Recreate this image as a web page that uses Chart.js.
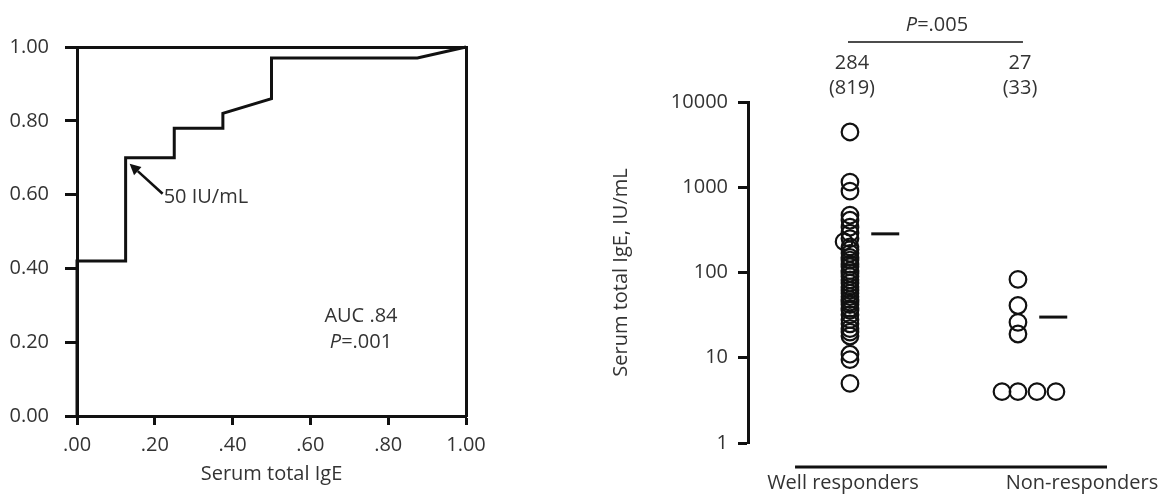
<!DOCTYPE html>
<html>
<head>
<meta charset="utf-8">
<script src="https://cdn.jsdelivr.net/npm/chart.js@4.4.1/dist/chart.umd.min.js"></script>
<style>
  html, body { margin: 0; padding: 0; background: #fff; }
  body { width: 1161px; height: 503px; position: relative; overflow: hidden; }
  .panel { position: absolute; top: 0; }
  #leftWrap { left: 0; width: 580px; height: 503px; }
  #rightWrap { left: 580px; width: 581px; height: 503px; }
</style>
</head>
<body>
<div class="panel" id="leftWrap"><canvas id="roc" width="580" height="503"></canvas></div>
<div class="panel" id="rightWrap"><canvas id="dots" width="581" height="503"></canvas></div>
<script>
// ---------- Left panel: ROC curve ----------
const rocFPR = [0, 0, 0.125, 0.125, 0.25, 0.25, 0.375, 0.375, 0.5, 0.5, 0.875, 1];
const rocTPR = [0, 0.42, 0.42, 0.70, 0.70, 0.78, 0.78, 0.82, 0.86, 0.97, 0.97, 1];
const rocTickValues = [0, 0.2, 0.4, 0.6, 0.8, 1];
const rocXTickLabels = ['.00', '.20', '.40', '.60', '.80', '1.00'];
const rocYTickLabels = ['0.00', '0.20', '0.40', '0.60', '0.80', '1.00'];
const rocXTitle = 'Serum total IgE';
const cutoffFPR = 0.125;
const cutoffTPR = 0.70;
const cutoffLabel = '50 IU/mL';
const aucLabel = 'AUC .84';
const aucPLabel = '=.001';

// ---------- Right panel: dot plot ----------
const groups = ['Well responders', 'Non-responders'];
const wellValues = [4450, 1150, 900, 470, 410, 340, 290, 250, 230, 200, 185, 168, 150, 140, 125, 117, 105, 98, 90, 82, 75, 68, 62, 57, 52, 48, 45, 42, 38, 36, 32, 28, 25, 22, 20, 18, 11, 9.5, 5];
const wellJitter = [0, 0, 0, 0, 0, 0, 0, 0, -0.035, 0, 0, 0, 0, 0, 0, 0, 0, 0, 0, 0, 0, 0, 0, 0, 0, 0, 0, 0, 0, 0, 0, 0, 0, 0, 0, 0, 0, 0, 0];
const nonValues = [83, 41, 26, 19, 4, 4, 4, 4];
const nonJitter = [0, 0, 0, 0, -0.095, 0, 0.113, 0.226];
const groupMedians = [284, 30];
const medianLabels = ['284', '27'];
const meanLabels = ['(819)', '(33)'];
const dotYTicks = [1, 10, 100, 1000, 10000];
const dotYTitle = 'Serum total IgE, IU/mL';
const compareLabel = '=.005';

const FONT = 'Open Sans';
const FS = 20;
const TXT = '#333';
const INK = '#111';

Chart.defaults.font.family = FONT;
Chart.defaults.font.size = FS;
Chart.defaults.color = TXT;

function drawPText(ctx, rest, cx, cy) {
  ctx.font = 'italic ' + FS + 'px "' + FONT + '"';
  const w1 = ctx.measureText('P').width;
  ctx.font = FS + 'px "' + FONT + '"';
  const w2 = ctx.measureText(rest).width;
  const x0 = cx - (w1 + w2) / 2;
  ctx.textAlign = 'left';
  ctx.textBaseline = 'middle';
  ctx.fillStyle = TXT;
  ctx.font = 'italic ' + FS + 'px "' + FONT + '"';
  ctx.fillText('P', x0, cy);
  ctx.font = FS + 'px "' + FONT + '"';
  ctx.fillText(rest, x0 + w1, cy);
}

const rocAnnot = {
  id: 'rocAnnot',
  afterDatasetsDraw(chart) {
    const { ctx, scales: { x, y } } = chart;
    const px = x.getPixelForValue(cutoffFPR);
    const py = y.getPixelForValue(cutoffTPR);
    const tipX = px + 4, tipY = py + 6;
    const tailX = px + 37, tailY = py + 36;
    const ang = Math.atan2(tipY - tailY, tipX - tailX);
    const hl = 11, hw = 5.5;
    const bx = tipX - hl * Math.cos(ang), by = tipY - hl * Math.sin(ang);
    ctx.save();
    ctx.strokeStyle = INK;
    ctx.fillStyle = INK;
    ctx.lineWidth = 2.6;
    ctx.beginPath();
    ctx.moveTo(tailX, tailY);
    ctx.lineTo(bx, by);
    ctx.stroke();
    ctx.beginPath();
    ctx.moveTo(tipX, tipY);
    ctx.lineTo(bx + hw * Math.sin(ang), by - hw * Math.cos(ang));
    ctx.lineTo(bx - hw * Math.sin(ang), by + hw * Math.cos(ang));
    ctx.closePath();
    ctx.fill();
    ctx.fillStyle = TXT;
    ctx.font = FS + 'px "' + FONT + '"';
    ctx.textAlign = 'left';
    ctx.textBaseline = 'middle';
    ctx.fillText(cutoffLabel, tailX + 1, tailY + 4);
    // AUC text
    const ax = x.getPixelForValue(0.73);
    const ay = y.getPixelForValue(0.27);
    ctx.textAlign = 'center';
    ctx.fillText(aucLabel, ax, ay);
    drawPText(ctx, aucPLabel, ax, ay + 26);
    ctx.restore();
  }
};

new Chart(document.getElementById('roc'), {
  type: 'scatter',
  data: {
    datasets: [{
      data: rocFPR.map((v, i) => ({ x: v, y: rocTPR[i] })),
      showLine: true,
      borderColor: INK,
      borderWidth: 3,
      pointRadius: 0,
      tension: 0,
      clip: false
    }]
  },
  options: {
    responsive: false,
    animation: false,
    layout: { padding: { left: 0, top: 47, right: 114, bottom: 0 } },
    plugins: { legend: { display: false }, tooltip: { enabled: false } },
    scales: {
      x: {
        type: 'linear', position: 'bottom', min: 0, max: 1,
        afterBuildTicks: s => { s.ticks = rocTickValues.map(v => ({ value: v })); },
        afterFit: s => { s.height = 87; },
        ticks: { callback: (v, i) => rocXTickLabels[i], padding: 8, color: TXT, maxRotation: 0, autoSkip: false },
        grid: { drawOnChartArea: false, drawTicks: true, tickLength: 9, tickWidth: 3, tickColor: INK },
        border: { display: true, width: 3, color: INK },
        title: { display: true, text: rocXTitle, color: TXT, padding: { top: 0, bottom: 17 } }
      },
      y: {
        type: 'linear', position: 'left', min: 0, max: 1,
        afterBuildTicks: s => { s.ticks = rocTickValues.map(v => ({ value: v })); },
        afterFit: s => { s.width = 77; },
        ticks: { callback: (v, i) => rocYTickLabels[i], padding: 16, color: TXT, autoSkip: false },
        grid: { drawOnChartArea: false, drawTicks: true, tickLength: 12, tickWidth: 3, tickColor: INK },
        border: { display: true, width: 3, color: INK }
      },
      xTop: {
        type: 'linear', position: 'top', min: 0, max: 1, display: true,
        afterFit: s => { s.height = 0; },
        ticks: { display: false },
        grid: { display: false, drawTicks: false },
        border: { display: true, width: 3, color: INK }
      },
      yRight: {
        type: 'linear', position: 'right', min: 0, max: 1, display: true,
        afterFit: s => { s.width = 0; },
        ticks: { display: false },
        grid: { display: false, drawTicks: false },
        border: { display: true, width: 3, color: INK }
      }
    }
  },
  plugins: [rocAnnot]
});

// ---------- Right chart ----------
const dotAnnot = {
  id: 'dotAnnot',
  afterDraw(chart) {
    const { ctx, chartArea: ca, scales: { x } } = chart;
    const x1 = x.getPixelForValue(1), x2 = x.getPixelForValue(2);
    ctx.save();
    drawPText(ctx, compareLabel, (x1 + x2) / 2 + 3, ca.top - 77);
    ctx.strokeStyle = INK;
    ctx.lineWidth = 1.5;
    ctx.beginPath();
    ctx.moveTo(x1 - 2, ca.top - 60);
    ctx.lineTo(x2 + 5, ca.top - 60);
    ctx.stroke();
    ctx.fillStyle = TXT;
    ctx.font = FS + 'px "' + FONT + '"';
    ctx.textAlign = 'center';
    ctx.textBaseline = 'middle';
    const labelShift = [-7, 64];
    groups.forEach((g, i) => {
      const cx = x.getPixelForValue(i + 1);
      ctx.fillText(medianLabels[i], cx + 2, ca.top - 39);
      ctx.fillText(meanLabels[i], cx + 2, ca.top - 14);
      ctx.fillText(g, cx + labelShift[i], ca.bottom + 40);
    });
    ctx.lineWidth = 3;
    ctx.beginPath();
    ctx.moveTo(x.getPixelForValue(0.673), ca.bottom + 24);
    ctx.lineTo(x.getPixelForValue(2.53), ca.bottom + 24);
    ctx.stroke();
    ctx.restore();
  }
};

const circleStyle = {
  pointStyle: 'circle',
  pointRadius: 8.3,
  pointBorderWidth: 2.2,
  pointBorderColor: INK,
  pointBackgroundColor: 'rgba(255,255,255,0)',
  showLine: false,
  clip: false
};

new Chart(document.getElementById('dots'), {
  type: 'scatter',
  data: {
    datasets: [
      Object.assign({ data: wellValues.map((v, i) => ({ x: 1 + wellJitter[i], y: v })) }, circleStyle),
      Object.assign({ data: nonValues.map((v, i) => ({ x: 2 + nonJitter[i], y: v })) }, circleStyle),
      {
        data: groupMedians.map((v, i) => ({ x: i + 1.21, y: v })),
        pointStyle: 'line', pointRadius: 14, pointBorderWidth: 3,
        pointBorderColor: INK, showLine: false, clip: false
      }
    ]
  },
  options: {
    responsive: false,
    animation: false,
    layout: { padding: { left: 0, top: 102, right: 54, bottom: 60 } },
    plugins: { legend: { display: false }, tooltip: { enabled: false } },
    scales: {
      x: { type: 'linear', min: 0.393, max: 2.53, display: false },
      y: {
        type: 'logarithmic', position: 'left', min: 1, max: 10000,
        afterBuildTicks: s => { s.ticks = dotYTicks.map(v => ({ value: v })); },
        afterFit: s => { s.width = 168; },
        ticks: { callback: v => String(v), padding: 10, color: TXT, autoSkip: false },
        grid: { drawOnChartArea: false, drawTicks: true, tickLength: 10, tickWidth: 3, tickColor: INK },
        border: { display: true, width: 3, color: INK },
        title: { display: true, text: dotYTitle, color: TXT, padding: { top: 29, bottom: 0 } }
      }
    }
  },
  plugins: [dotAnnot]
});
</script>
</body>
</html>
